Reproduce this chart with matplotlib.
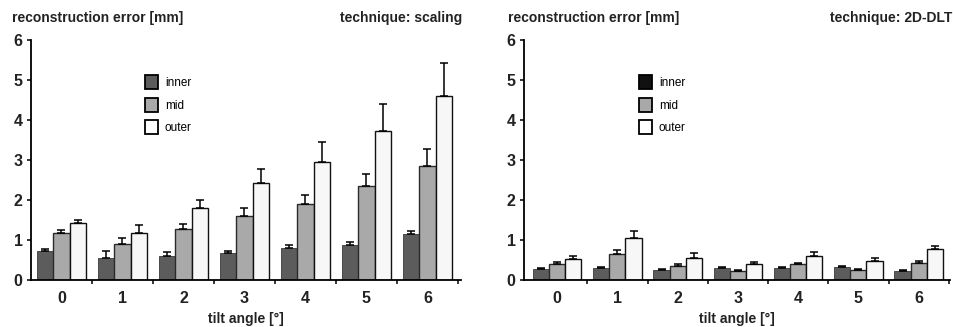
import matplotlib
matplotlib.use("Agg")
import matplotlib.pyplot as plt
from matplotlib.patches import Patch
import numpy as np

plt.rcParams['font.family'] = ['Liberation Sans', 'DejaVu Sans']

angles = [0, 1, 2, 3, 4, 5, 6]
series = ["inner", "mid", "outer"]

# technique: scaling
scal_inner = [0.72, 0.55, 0.60, 0.68, 0.80, 0.88, 1.15]
scal_inner_err = [0.06, 0.17, 0.10, 0.05, 0.07, 0.07, 0.07]
scal_mid = [1.18, 0.90, 1.27, 1.60, 1.90, 2.35, 2.85]
scal_mid_err = [0.07, 0.15, 0.13, 0.20, 0.23, 0.30, 0.43]
scal_outer = [1.43, 1.18, 1.80, 2.42, 2.95, 3.72, 4.60]
scal_outer_err = [0.07, 0.20, 0.20, 0.35, 0.50, 0.68, 0.83]

# technique: 2D-DLT
dlt_inner = [0.28, 0.30, 0.25, 0.31, 0.30, 0.33, 0.23]
dlt_inner_err = [0.03, 0.03, 0.02, 0.02, 0.02, 0.03, 0.02]
dlt_mid = [0.40, 0.64, 0.36, 0.23, 0.39, 0.26, 0.42]
dlt_mid_err = [0.04, 0.12, 0.05, 0.02, 0.04, 0.02, 0.05]
dlt_outer = [0.53, 1.04, 0.56, 0.39, 0.60, 0.48, 0.77]
dlt_outer_err = [0.08, 0.19, 0.11, 0.07, 0.09, 0.08, 0.08]

colors = ["#5c5c5c", "#a9a9a9", "#f7f7f7"]
edges = ["#3a3a3a", "#2a2a2a", "#111111"]

fig = plt.figure(figsize=(9.54, 3.27), dpi=100)
W, H = 954, 327

def make_ax(x0, x1, xlim):
    ax = fig.add_axes([x0 / W, 1 - 280 / H, (x1 - x0) / W, 240 / H])
    ax.set_xlim(*xlim)
    ax.set_ylim(0, 6)
    return ax

def draw(ax, data, errs, legend_x, legend_colors):
    x = np.array(angles, dtype=float)
    w = 0.268
    for i, (vals, err) in enumerate(zip(data, errs)):
        pos = x + (i - 1) * w
        ax.bar(pos, vals, width=w, color=colors[i], edgecolor=edges[i],
               linewidth=1.0 if i > 0 else 0.6, zorder=2)
        ax.errorbar(pos, vals, yerr=[np.zeros(len(vals)), err], fmt='none',
                    ecolor='black', elinewidth=1.1, capsize=3, capthick=1.1, zorder=3)
    for s in ['top', 'right']:
        ax.spines[s].set_visible(False)
    for s in ['left', 'bottom']:
        ax.spines[s].set_linewidth(1.3)
    ax.set_yticks(range(0, 7))
    ax.tick_params(axis='y', length=3, width=1.1, labelsize=11.5, pad=3)
    ax.set_xticks(angles)
    ax.set_xticks(np.arange(0.5, 6.6, 1.0), minor=True)
    ax.tick_params(axis='x', which='major', length=0, labelsize=11.5, pad=8)
    ax.tick_params(axis='x', which='minor', length=3, width=1.1)
    for lab in ax.get_xticklabels() + ax.get_yticklabels():
        lab.set_fontweight('bold')
        lab.set_color('#222222')
    ax.set_xlabel("tilt angle [°]", fontsize=10, fontweight='bold', color='#222222', labelpad=4)
    handles = [Patch(facecolor=legend_colors[i], edgecolor='black', linewidth=1.3, label=series[i])
               for i in range(3)]
    ax.legend(handles=handles, loc='upper left', bbox_to_anchor=(legend_x, 0.875),
              frameon=False, fontsize=8.5, handlelength=1.05, handleheight=1.45,
              handletextpad=0.6, labelspacing=0.75, borderaxespad=0)

ax1 = make_ax(31, 461, (-0.5, 6.55))
draw(ax1, [scal_inner, scal_mid, scal_outer], [scal_inner_err, scal_mid_err, scal_outer_err],
     0.255, ["#5c5c5c", "#a9a9a9", "#ffffff"])
ax2 = make_ax(524, 950, (-0.55, 6.52))
draw(ax2, [dlt_inner, dlt_mid, dlt_outer], [dlt_inner_err, dlt_mid_err, dlt_outer_err],
     0.26, ["#111111", "#a9a9a9", "#ffffff"])

tkw = dict(fontsize=10, fontweight='bold', color='#222222', va='center')
fig.text(12 / W, 1 - 18 / H, "reconstruction error [mm]", ha='left', **tkw)
fig.text(462 / W, 1 - 18 / H, "technique: scaling", ha='right', **tkw)
fig.text(508 / W, 1 - 18 / H, "reconstruction error [mm]", ha='left', **tkw)
fig.text(952 / W, 1 - 18 / H, "technique: 2D-DLT", ha='right', **tkw)

fig.savefig("out.png", dpi=100)
